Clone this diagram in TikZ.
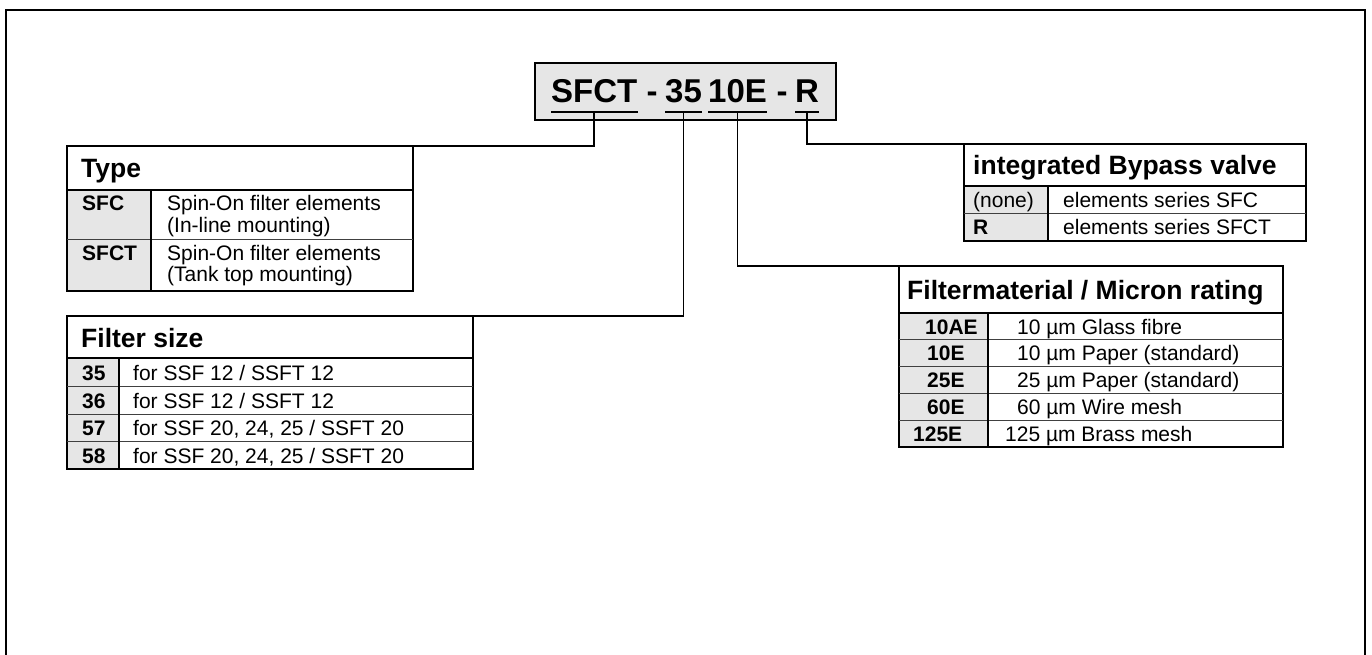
\documentclass[tikz,border=0pt]{standalone}
\usepackage{fontspec}
\setmainfont{Liberation Sans}
\definecolor{cellgray}{HTML}{E6E6E6}
\begin{document}
\begin{tikzpicture}[x=1pt,y=-1pt,
  frame/.style={draw=black, line width=2.2pt},
  tbl/.style={draw=black, line width=1.8pt, rectangle, inner sep=0pt, outer sep=0pt, anchor=north west},
  hdrline/.style={draw=black, line width=1.4pt},
  rowline/.style={draw=black!75, line width=0.9pt},
  colline/.style={draw=black, line width=1.4pt},
  conn/.style={draw=black, line width=1.8pt},
  hdr/.style={font=\fontsize{26.5}{29}\selectfont\bfseries, inner sep=0pt, anchor=base west},
  key/.style={font=\fontsize{21}{23}\selectfont\bfseries, inner sep=0pt, anchor=base west},
  desc/.style={font=\fontsize{21}{23}\selectfont, inner sep=0pt, anchor=base west},
  tok/.style={font=\fontsize{33}{36}\selectfont\bfseries, inner sep=0pt, anchor=base west},
]
\useasboundingbox (0,0) rectangle (1372,655);
% outer frame
\draw[frame] (6,655) -- (6,10) -- (1365,10) -- (1365,655);

% ---------- title code box ----------
\node[tbl, fill=cellgray, minimum width=301pt, minimum height=57pt] (code) at (535,63) {};
\node[tok] (tA) at (551,103) {SFCT};
\node[tok, anchor=base] (d1) at (652,103) {-};
\node[tok] (tB) at (665,103) {35};
\node[tok] (tC) at (708,103) {10E};
\node[tok, anchor=base] (d2) at (782,103) {-};
\node[tok] (tD) at (795,103) {R};
\coordinate (ul) at (0,112);
\draw[conn] (tA.base west |- ul) -- (tA.base east |- ul);
\draw[conn] (tB.base west |- ul) -- (tB.base east |- ul);
\draw[conn] (tC.base west |- ul) -- (tC.base east |- ul);
\draw[conn] (tD.base west |- ul) -- (tD.base east |- ul);

% ---------- Type table ----------
\fill[cellgray] (67,190) rectangle (151,291);
\node[tbl, minimum width=346pt, minimum height=145pt] (type) at (67,146) {};
\draw[hdrline] (67,190) -- (413,190);
\draw[rowline] (67,239) -- (413,239);
\draw[colline] (151,190) -- (151,291);
\node[hdr] (typeH) at (81,178) {Type};
\node[key] (k1) at (82,211) {SFC};
\node[desc] (v1a) at (167,211) {Spin-On filter elements};
\node[desc] (v1b) at (167,232) {(In-line mounting)};
\node[key] (k2) at (82,260) {SFCT};
\node[desc] (v2a) at (167,260) {Spin-On filter elements};
\node[desc] (v2b) at (167,281) {(Tank top mounting)};

% ---------- Filter size table ----------
\fill[cellgray] (67,358) rectangle (119,469);
\node[tbl, minimum width=406pt, minimum height=153pt] (fsize) at (67,316) {};
\draw[hdrline] (67,358) -- (473,358);
\draw[rowline] (67,386) -- (473,386);
\draw[rowline] (67,414) -- (473,414);
\draw[rowline] (67,441) -- (473,441);
\draw[colline] (119,358) -- (119,469);
\node[hdr] (fsH) at (81,347) {Filter size};
\node[key] (f1) at (82,380) {35};
\node[desc] (g1) at (133,380) {for SSF 12 / SSFT 12};
\node[key] (f2) at (82,408) {36};
\node[desc] (g2) at (133,408) {for SSF 12 / SSFT 12};
\node[key] (f3) at (82,435.5) {57};
\node[desc] (g3) at (133,435.5) {for SSF 20, 24, 25 / SSFT 20};
\node[key] (f4) at (82,463) {58};
\node[desc] (g4) at (133,463) {for SSF 20, 24, 25 / SSFT 20};

% ---------- Bypass table ----------
\fill[cellgray] (964,186) rectangle (1048,241);
\node[tbl, minimum width=342pt, minimum height=97pt] (bp) at (964,144) {};
\draw[hdrline] (964,186) -- (1306,186);
\draw[rowline] (964,213.5) -- (1306,213.5);
\draw[colline] (1048,186) -- (1048,241);
\node[hdr] (bpH) at (973,175) {integrated Bypass valve};
\node[desc] (b1) at (973,207.5) {(none)};
\node[desc] (c1) at (1063,207.5) {elements series SFC};
\node[key] (b2) at (973,234.5) {R};
\node[desc] (c2) at (1063,234.5) {elements series SFCT};

% ---------- Filtermaterial table ----------
\fill[cellgray] (899,313) rectangle (988,447);
\node[tbl, minimum width=384pt, minimum height=181pt] (fm) at (899,266) {};
\draw[hdrline] (899,313) -- (1283,313);
\draw[rowline] (899,339.8) -- (1283,339.8);
\draw[rowline] (899,366.6) -- (1283,366.6);
\draw[rowline] (899,393.4) -- (1283,393.4);
\draw[rowline] (899,420.2) -- (1283,420.2);
\draw[colline] (988,313) -- (988,447);
\node[hdr] (fmH) at (907,299) {Filtermaterial / Micron rating};
\node[key] (m1) at (925,334) {10AE};
\node[desc] (n1) at (1017,334) {10 µm Glass fibre};
\node[key] (m2) at (927,360.7) {10E};
\node[desc] (n2) at (1017,360.7) {10 µm Paper (standard)};
\node[key] (m3) at (927,387.5) {25E};
\node[desc] (n3) at (1017,387.5) {25 µm Paper (standard)};
\node[key] (m4) at (927,414.3) {60E};
\node[desc] (n4) at (1017,414.3) {60 µm Wire mesh};
\node[key] (m5) at (913,441) {125E};
\node[desc] (n5) at (1005,441) {125 µm Brass mesh};

% ---------- connectors ----------
\draw[conn] (tA.base |- ul) |- (type.north east);
\draw[conn] (tB.base |- ul) |- (fsize.north east);
\draw[conn] (tC.base |- ul) |- (fm.north west);
\draw[conn] (tD.base |- ul) |- (bp.north west);
\end{tikzpicture}
\end{document}
